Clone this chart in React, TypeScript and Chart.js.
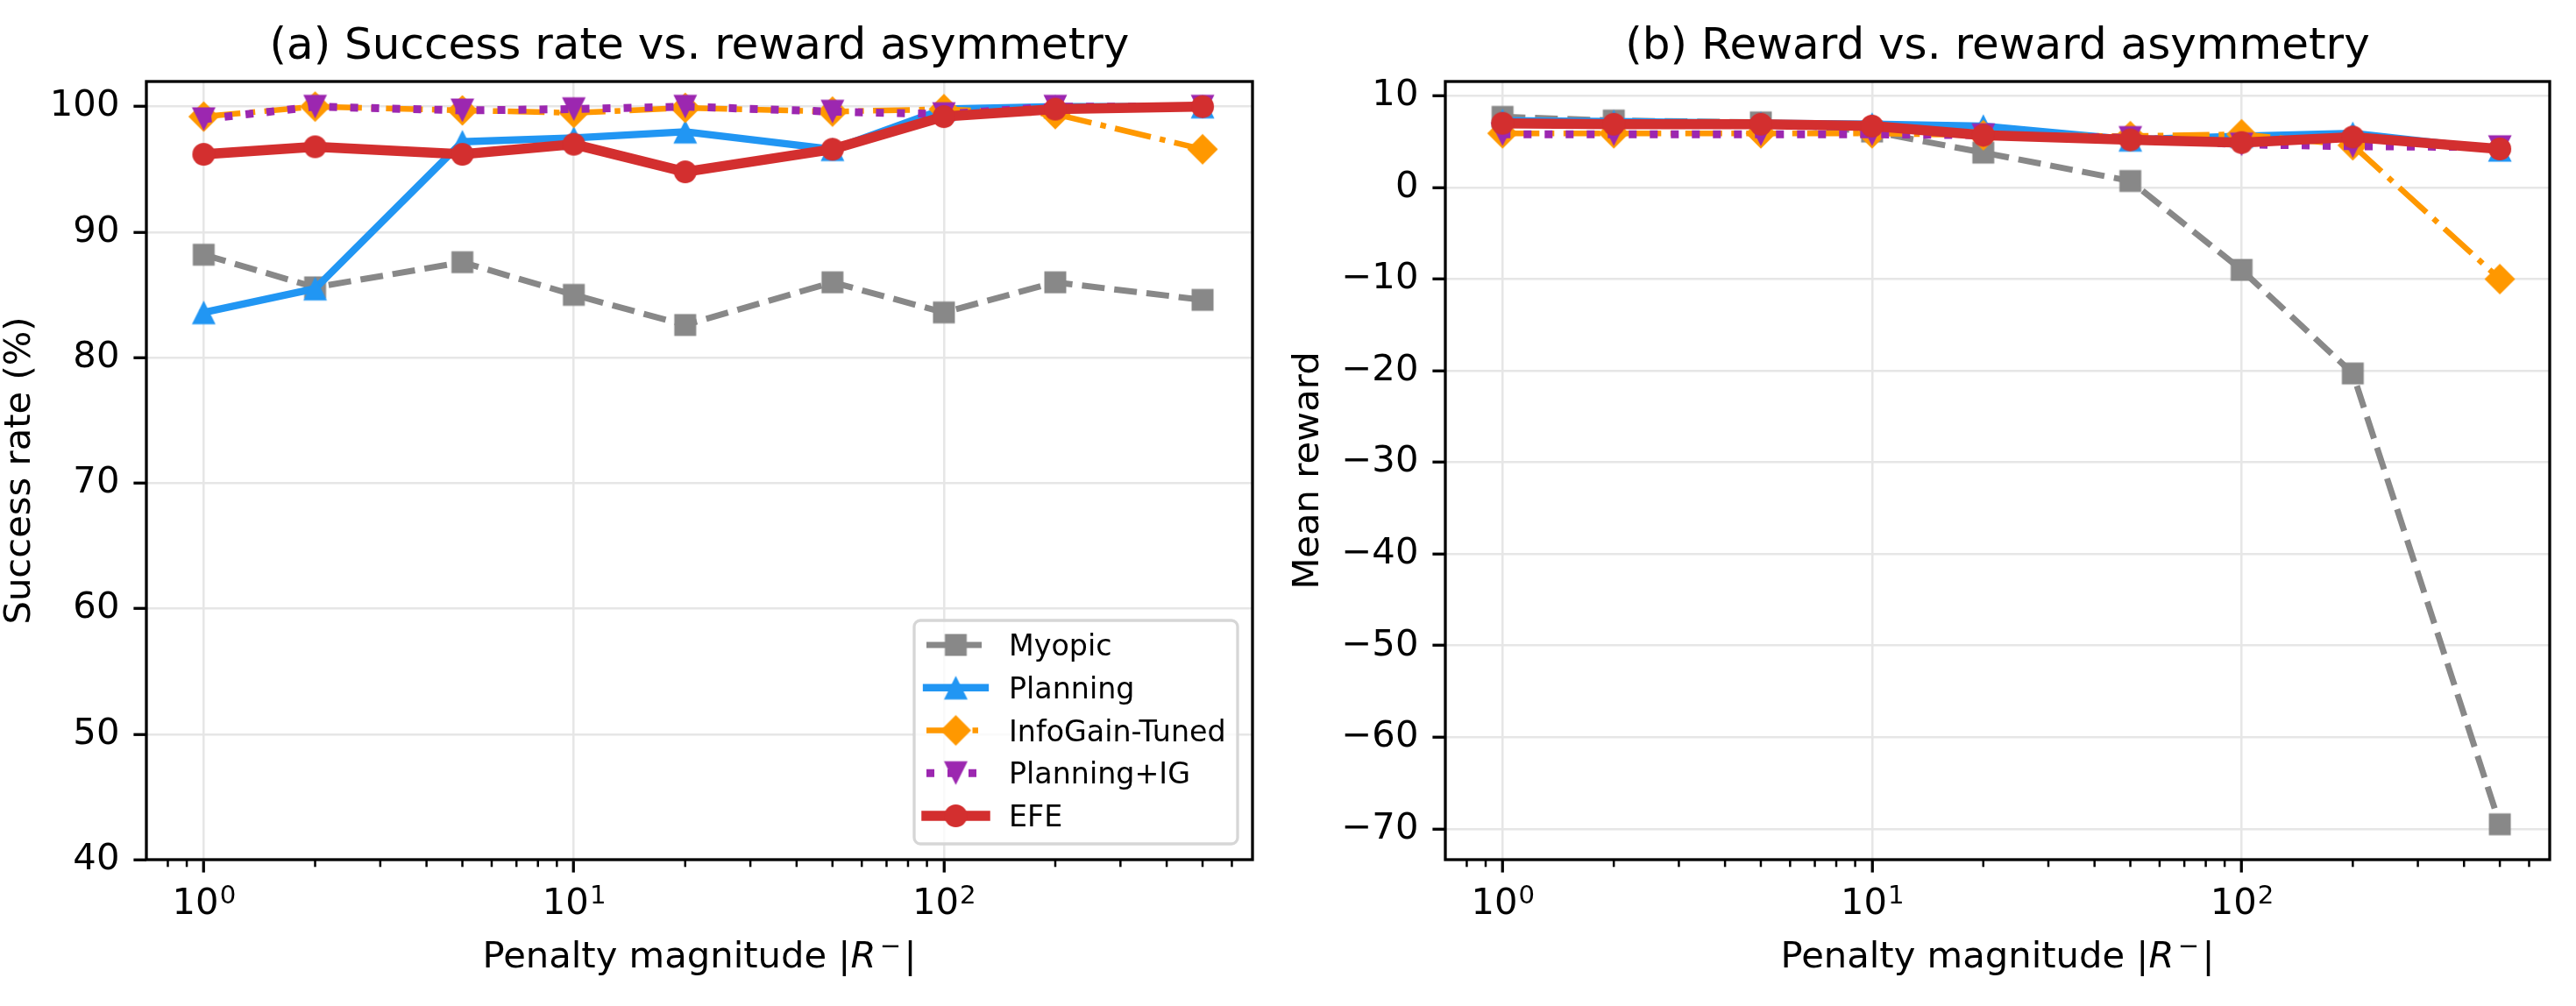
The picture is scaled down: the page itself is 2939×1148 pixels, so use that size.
import React, { useEffect, useRef } from 'react';
import { Chart, registerables } from 'chart.js';
Chart.register(...registerables);

const FONT = "'DejaVu Sans', 'Liberation Sans', sans-serif";
const W = 2939;
const H = 1148;
const PANEL_X = [0, 1470];
const PANEL_W = [1470, 1469];
const AXIS_W = [167, 179];
const PLOT_RIGHT = [1429, 1439];
const PLOT_TOP = 93;
const PLOT_BOTTOM = 981;

// ---- data ----
const penalties = [1, 2, 5, 10, 20, 50, 100, 200, 500];
const seriesNames = ['Myopic', 'Planning', 'InfoGain-Tuned', 'Planning+IG', 'EFE'];
const seriesColors = ['#888888', '#2196F3', '#FF9800', '#9C27B0', '#D32F2F'];

const successMyopic = [88.2, 85.6, 87.6, 85.0, 82.6, 86.0, 83.6, 86.0, 84.6];
const successPlanning = [83.6, 85.5, 97.2, 97.5, 98.0, 96.6, 99.8, 100.0, 100.0];
const successInfoGain = [99.2, 100.0, 99.7, 99.5, 99.9, 99.6, 99.8, 99.4, 96.6];
const successPlanningIG = [99.0, 100.0, 99.7, 99.8, 100.0, 99.6, 99.4, 100.0, 100.0];
const successEFE = [96.2, 96.8, 96.2, 97.0, 94.8, 96.6, 99.2, 99.8, 100.0];

const rewardMyopic = [7.7, 7.3, 7.1, 6.1, 3.8, 0.7, -9.0, -20.3, -69.5];
const rewardPlanning = [7.3, 7.2, 7.0, 6.9, 6.7, 5.2, 5.6, 5.9, 4.1];
const rewardInfoGain = [5.9, 5.9, 5.9, 5.9, 5.7, 5.6, 5.8, 4.6, -10.0];
const rewardPlanningIG = [5.8, 5.8, 5.8, 5.8, 5.7, 5.4, 4.7, 4.5, 4.4];
const rewardEFE = [7.0, 6.9, 6.9, 6.7, 5.7, 5.2, 4.9, 5.5, 4.2];

const successSeries = [successMyopic, successPlanning, successInfoGain, successPlanningIG, successEFE];
const rewardSeries = [rewardMyopic, rewardPlanning, rewardInfoGain, rewardPlanningIG, rewardEFE];

const xMajorTicks = [1, 10, 100];
const xMinorTicks = [0.8, 0.9, 2, 3, 4, 5, 6, 7, 8, 9, 20, 30, 40, 50, 60, 70, 80, 90, 200, 300, 400, 500, 600];
const yTicksA = [40, 50, 60, 70, 80, 90, 100];
const yTicksB = [-70, -60, -50, -40, -30, -20, -10, 0, 10];
const yRangeA = [40, 102];
const titles = ['(a) Success rate vs. reward asymmetry', '(b) Reward vs. reward asymmetry'];
const yLabels = ['Success rate (%)', 'Mean reward'];
const xLabelText = 'Penalty magnitude ';

// ---- styles ----
const lineStyles = [
  { width: 7, dash: [26, 11], cap: 'butt', marker: 'square' },
  { width: 8.3, dash: [] as number[], cap: 'square', marker: 'triUp' },
  { width: 6.5, dash: [42, 10.5, 6.5, 10.5], cap: 'butt', marker: 'diamond' },
  { width: 9, dash: [9, 15], cap: 'butt', marker: 'triDown' },
  { width: 11.5, dash: [] as number[], cap: 'square', marker: 'circle' },
];
const GRID = '#e6e6e6';
const SUP: Record<string, string> = { '0': '⁰', '1': '¹', '2': '²' };

function makeMarker(shape: string, color: string): HTMLCanvasElement {
  const S = 40;
  const c = document.createElement('canvas');
  c.width = S;
  c.height = S;
  const g = c.getContext('2d')!;
  g.fillStyle = color;
  const m = S / 2;
  g.beginPath();
  if (shape === 'square') {
    const h = 12.5;
    g.rect(m - h, m - h, 2 * h, 2 * h);
  } else if (shape === 'triUp') {
    const h = 13.5;
    g.moveTo(m, m - h);
    g.lineTo(m + h, m + h);
    g.lineTo(m - h, m + h);
    g.closePath();
  } else if (shape === 'triDown') {
    const h = 13.5;
    g.moveTo(m, m + h);
    g.lineTo(m + h, m - h);
    g.lineTo(m - h, m - h);
    g.closePath();
  } else if (shape === 'diamond') {
    const h = 17.5;
    g.moveTo(m, m - h);
    g.lineTo(m + h, m);
    g.lineTo(m, m + h);
    g.lineTo(m - h, m);
    g.closePath();
  } else {
    g.arc(m, m, 13, 0, Math.PI * 2);
  }
  g.fill();
  return c;
}

function Panel({ idx }: { idx: number }) {
  const ref = useRef<HTMLCanvasElement>(null);
  useEffect(() => {
    const canvas = ref.current!;
    const series = idx === 0 ? successSeries : rewardSeries;
    const markers = lineStyles.map((s, i) => makeMarker(s.marker, seriesColors[i]));

    const logMin = Math.log10(Math.min(...penalties));
    const logMax = Math.log10(Math.max(...penalties));
    const lm = 0.05 * (logMax - logMin);
    const xMin = Math.pow(10, logMin - lm);
    const xMax = Math.pow(10, logMax + lm);

    let yMin: number, yMax: number;
    if (idx === 0) {
      yMin = yRangeA[0];
      yMax = yRangeA[1];
    } else {
      const all = rewardSeries.flat();
      const lo = Math.min(...all);
      const hi = Math.max(...all);
      const p = 0.05 * (hi - lo);
      yMin = lo - p;
      yMax = hi + p;
    }
    const yTicks = idx === 0 ? yTicksA : yTicksB;

    const datasets = series.map((vals, i) => ({
      label: seriesNames[i],
      data: penalties.map((p, j) => ({ x: p, y: vals[j] })),
      borderColor: seriesColors[i],
      backgroundColor: seriesColors[i],
      borderWidth: lineStyles[i].width,
      borderDash: lineStyles[i].dash,
      borderCapStyle: lineStyles[i].cap,
      borderJoinStyle: 'round',
      pointStyle: markers[i],
      pointRadius: 13,
      pointBorderWidth: 0,
      tension: 0,
      fill: false,
      clip: false,
      order: series.length - i,
    }));

    const deco = {
      id: 'deco' + idx,
      afterDraw(chart: any) {
        const ctx = chart.ctx as CanvasRenderingContext2D;
        const a = chart.chartArea;
        const xs = chart.scales.x;
        ctx.save();
        // minor ticks
        ctx.strokeStyle = '#000';
        ctx.lineWidth = 2.5;
        for (const v of xMinorTicks) {
          if (v < xMin || v > xMax) continue;
          const px = xs.getPixelForValue(v);
          ctx.beginPath();
          ctx.moveTo(px, a.bottom);
          ctx.lineTo(px, a.bottom + 8.3);
          ctx.stroke();
        }
        // frame
        ctx.lineWidth = 3.3;
        ctx.strokeRect(a.left, a.top, a.right - a.left, a.bottom - a.top);

        // x tick labels (10^k)
        ctx.fillStyle = '#000';
        ctx.textBaseline = 'alphabetic';
        ctx.textAlign = 'left';
        const tickBase = a.bottom + 62;
        for (const v of xMajorTicks) {
          const px = xs.getPixelForValue(v);
          const e = String(Math.round(Math.log10(v)));
          ctx.font = `41.7px ${FONT}`;
          const wb = ctx.measureText('10').width;
          ctx.font = `29.2px ${FONT}`;
          const we = ctx.measureText(e).width;
          const x0 = px - (wb + we) / 2;
          ctx.font = `41.7px ${FONT}`;
          ctx.fillText('10', x0, tickBase);
          ctx.font = `29.2px ${FONT}`;
          ctx.fillText(e, x0 + wb + 1, tickBase - 12);
        }

        // x axis label: Penalty magnitude |R^-|
        const cx = (a.left + a.right) / 2;
        const xlBase = 1104;
        const parts = [
          { t: xLabelText, f: `41.7px ${FONT}`, dy: 0 },
          { t: '|', f: `41.7px ${FONT}`, dy: 0 },
          { t: 'R', f: `italic 41.7px ${FONT}`, dy: 0 },
          { t: ' ', f: `14px ${FONT}`, dy: 0 },
          { t: '\u2212', f: `29.2px ${FONT}`, dy: -15 },
          { t: ' ', f: `10px ${FONT}`, dy: 0 },
          { t: '|', f: `41.7px ${FONT}`, dy: 0 },
        ];
        let total = 0;
        const widths = parts.map((p) => {
          ctx.font = p.f;
          const w = ctx.measureText(p.t).width;
          total += w;
          return w;
        });
        let xx = cx - total / 2;
        parts.forEach((p, i) => {
          ctx.font = p.f;
          ctx.fillText(p.t, xx, xlBase + p.dy);
          xx += widths[i];
        });

        // title
        ctx.textAlign = 'center';
        ctx.font = `50px ${FONT}`;
        ctx.fillText(titles[idx], cx, 66.5);

        // y label
        ctx.save();
        ctx.translate(34, (a.top + a.bottom) / 2);
        ctx.rotate(-Math.PI / 2);
        ctx.font = `41.7px ${FONT}`;
        ctx.textAlign = 'center';
        ctx.fillText(yLabels[idx], 0, 0);
        ctx.restore();

        // legend
        if (idx === 0) {
          const lw = 369;
          const lh = 255;
          const lx = a.right - 17 - lw;
          const ly = a.bottom - 18 - lh;
          ctx.beginPath();
          ctx.roundRect(lx, ly, lw, lh, 7);
          ctx.fillStyle = 'rgba(255,255,255,0.8)';
          ctx.fill();
          ctx.strokeStyle = '#d6d6d6';
          ctx.lineWidth = 3.3;
          ctx.stroke();
          const hx0 = lx + 14;
          const hx1 = lx + 81;
          const hcx = (hx0 + hx1) / 2;
          seriesNames.forEach((name, i) => {
            const y = ly + 28 + i * 48.75;
            const st = lineStyles[i];
            ctx.strokeStyle = seriesColors[i];
            ctx.lineWidth = st.width;
            ctx.lineCap = st.cap as CanvasLineCap;
            ctx.setLineDash(st.dash);
            ctx.beginPath();
            ctx.moveTo(hx0, y);
            ctx.lineTo(hx1, y);
            ctx.stroke();
            ctx.setLineDash([]);
            const mk = markers[i];
            ctx.drawImage(mk, hcx - mk.width / 2, y - mk.height / 2);
            ctx.fillStyle = '#000';
            ctx.font = `33.3px ${FONT}`;
            ctx.textAlign = 'left';
            ctx.fillText(name, lx + 108, y + 12.1);
          });
        }
        ctx.restore();
      },
    };

    const chart = new Chart(canvas, {
      type: 'line',
      data: { datasets: datasets as any },
      options: {
        responsive: false,
        animation: false,
        devicePixelRatio: 1,
        events: [],
        layout: {
          padding: { left: 0, right: PANEL_W[idx] - PLOT_RIGHT[idx], top: PLOT_TOP, bottom: 0 },
        },
        plugins: {
          legend: { display: false },
          title: { display: false },
          tooltip: { enabled: false },
        },
        scales: {
          x: {
            type: 'logarithmic',
            position: 'bottom',
            min: xMin,
            max: xMax,
            afterBuildTicks: (s: any) => {
              s.ticks = xMajorTicks.map((v) => ({ value: v, major: true }));
            },
            afterFit: (s: any) => {
              s.height = H - PLOT_BOTTOM;
            },
            ticks: { display: false },
            grid: {
              color: GRID,
              lineWidth: 2.5,
              drawTicks: true,
              tickLength: 14.6,
              tickColor: '#000',
              tickWidth: 3.3,
            },
            border: { display: false },
          },
          y: {
            type: 'linear',
            position: 'left',
            min: yMin,
            max: yMax,
            afterBuildTicks: (s: any) => {
              s.ticks = yTicks.map((v) => ({ value: v }));
            },
            afterFit: (s: any) => {
              s.width = AXIS_W[idx];
            },
            ticks: {
              color: '#000',
              padding: 16,
              font: { family: FONT, size: 41.7 },
              callback: (v: any) => (Number(v) < 0 ? '\u2212' + Math.abs(Number(v)) : String(v)),
              autoSkip: false,
            },
            grid: {
              color: GRID,
              lineWidth: 2.5,
              drawTicks: true,
              tickLength: 14.6,
              tickColor: '#000',
              tickWidth: 3.3,
            },
            border: { display: false },
          },
        },
      } as any,
      plugins: [deco],
    });
    return () => chart.destroy();
  }, [idx]);

  return (
    <canvas
      ref={ref}
      width={PANEL_W[idx]}
      height={H}
      style={{ position: 'absolute', left: PANEL_X[idx], top: 0, width: PANEL_W[idx], height: H, display: 'block' }}
    />
  );
}

export default function App() {
  return (
    <div style={{ position: 'fixed', left: 0, top: 0, width: W, height: H, background: '#fff', overflow: 'hidden' }}>
      <Panel idx={0} />
      <Panel idx={1} />
    </div>
  );
}
